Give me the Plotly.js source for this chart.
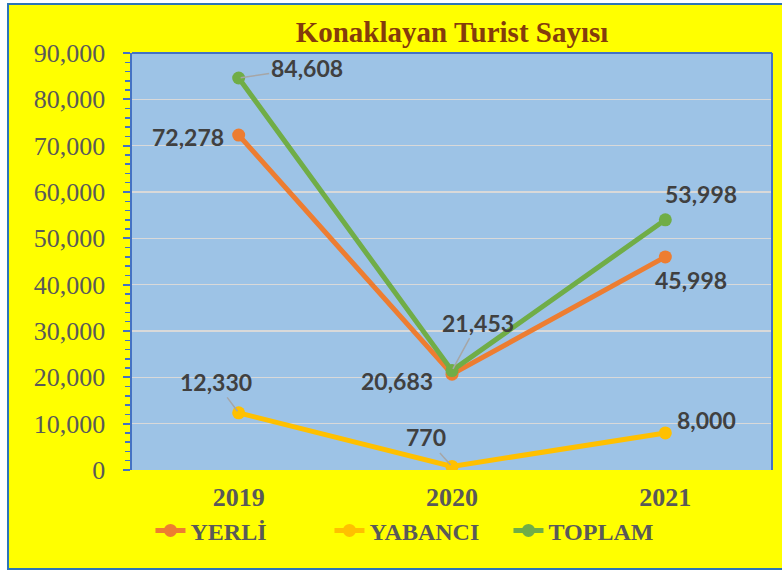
<!DOCTYPE html>
<html>
<head>
<meta charset="utf-8">
<script src="https://cdn.plot.ly/plotly-3.0.1.min.js"></script>
<style>
html,body{margin:0;padding:0;background:#ffffff;width:782px;height:570px;overflow:hidden;}
#wrap{position:absolute;left:7px;top:3px;width:775px;height:563px;border-left:2px solid #2E75B6;border-top:2px solid #2E75B6;border-bottom:2px solid #2E75B6;background:#FFFF00;}
#chart{width:775px;height:563px;}
#err{position:absolute;left:0;top:0;color:red;font-size:12px;}
</style>
</head>
<body>
<div id="wrap"><div id="chart"></div></div>
<div id="err"></div>
<script>
window.onerror = function(m){ document.getElementById('err').textContent += m + ' | '; };

const years = ['2019', '2020', '2021'];
const yerli = [72278, 20683, 45998];
const yabanci = [12330, 770, 8000];
const toplam = [84608, 21453, 53998];
const seriesNames = ['YERLİ', 'YABANCI', 'TOPLAM'];
const colors = ['#ED7D31', '#FFC000', '#70AD47'];

const allSeries = [yerli, yabanci, toplam];
const traces = allSeries.map((vals, i) => ({
  type: 'scatter',
  mode: 'lines+markers',
  x: years,
  y: vals,
  name: seriesNames[i],
  line: {color: colors[i], width: 5},
  marker: {color: colors[i], size: 13},
  hoverinfo: 'skip'
}));

function fmt(v) { return String(v).replace(/\B(?=(\d{3})+(?!\d))/g, ','); }
// label placement: [series index, point index, dx, dy, leader line]
const labelPos = [
  [2, 0, 68, -10, true],
  [0, 0, -51, 2, false],
  [1, 0, -23, -31, true],
  [0, 1, -55, 7, false],
  [2, 1, 26, -48, true],
  [1, 1, -26, -29, true],
  [2, 2, 36, -26, false],
  [0, 2, 26, 23, false],
  [1, 2, 41, -13, false]
];
const annotations = labelPos.map(function(lp) {
  const s = lp[0], p = lp[1], dx = lp[2], dy = lp[3], arrow = lp[4];
  const a = {
    x: p, y: allSeries[s][p], xref: 'x', yref: 'y',
    text: '<b>' + fmt(allSeries[s][p]) + '</b>',
    font: {family: 'Lato, sans-serif', size: 23, color: '#404040'},
    showarrow: arrow
  };
  if (arrow) {
    a.ax = dx; a.ay = dy; a.arrowhead = 0; a.arrowcolor = '#A6A6A6'; a.arrowwidth = 1.5; a.standoff = 2;
  } else {
    a.xshift = dx; a.yshift = -dy;
  }
  return a;
});

const layout = {
  width: 775, height: 563,
  margin: {l: 123, r: 12, t: 48, b: 98},
  paper_bgcolor: '#FFFF00',
  plot_bgcolor: '#9DC3E6',
  title: {
    text: '<b>Konaklayan Turist Sayısı</b>',
    font: {family: 'Liberation Serif, Times New Roman, serif', size: 29, color: '#843C0C'},
    x: 0.5, xref: 'paper', y: 0.952, yref: 'container', yanchor: 'middle'
  },
  xaxis: {
    type: 'category',
    range: [-0.5, 2.5],
    showgrid: false,
    zeroline: false,
    showline: false,
    ticks: '',
    tickfont: {family: 'Liberation Serif, Times New Roman, serif', size: 26, color: '#595959', weight: 'bold'},
    ticklabelstandoff: 9
  },
  yaxis: {
    range: [0, 90000],
    dtick: 10000,
    tickformat: ',d',
    showgrid: true,
    gridcolor: '#D9D9D9',
    gridwidth: 1.5,
    zeroline: false,
    showline: true,
    linecolor: '#4472C4',
    linewidth: 2.5,
    ticks: 'outside',
    ticklen: 7,
    tickwidth: 2,
    tickcolor: '#4472C4',
    minor: {dtick: 2000, ticks: 'outside', ticklen: 5, tickwidth: 1.5, tickcolor: '#4472C4', showgrid: false},
    tickfont: {family: 'Liberation Serif, Times New Roman, serif', size: 26, color: '#595959'},
    ticklabelstandoff: 12
  },
  legend: {
    orientation: 'h',
    x: 0.529, xref: 'container', xanchor: 'center',
    y: 0.066, yref: 'container', yanchor: 'middle',
    bgcolor: 'rgba(0,0,0,0)',
    entrywidth: 134,
    font: {family: 'Liberation Serif, Times New Roman, serif', size: 24, color: '#595959', weight: 'bold'}
  },
  shapes: [
    {type: 'line', xref: 'paper', yref: 'paper', x0: 0, x1: 1, y0: 1, y1: 1, line: {color: '#4472C4', width: 2}},
    {type: 'line', xref: 'paper', yref: 'paper', x0: 1, x1: 1, y0: 0, y1: 1, line: {color: '#4472C4', width: 2}}
  ],
  annotations: annotations,
  showlegend: true
};

Plotly.newPlot('chart', traces, layout, {displayModeBar: false, staticPlot: true}).catch(function(e){ document.getElementById('err').textContent += String(e); });
</script>
</body>
</html>
